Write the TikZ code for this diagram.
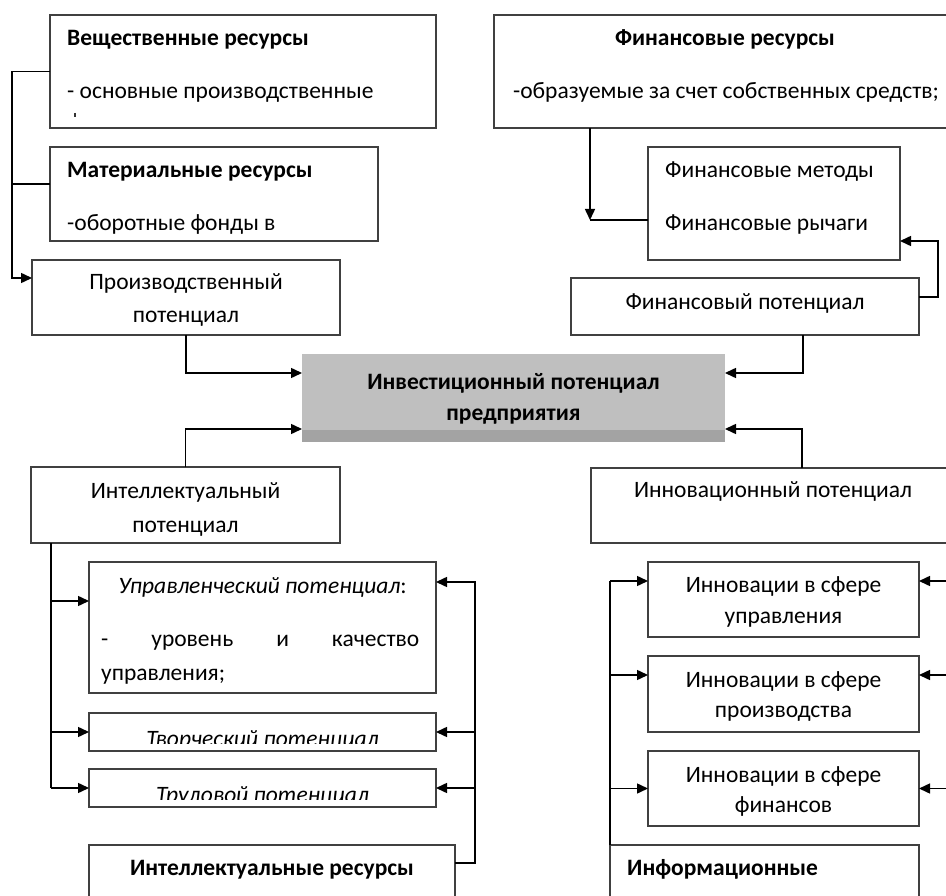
\documentclass[tikz,border=0pt]{standalone}
\usepackage{fontspec}
\setmainfont{Carlito}
\usetikzlibrary{arrows.meta,calc}
\begin{document}
\begin{tikzpicture}[x=1pt,y=-1pt,
  box/.style={draw=black!75,line width=1.3pt,inner sep=0pt,outer sep=0pt,anchor=north west,fill=white},
  txt/.style={inner sep=0pt,font=\fontsize{23.5}{28}\selectfont,text=black},
  btxt/.style={txt,font=\fontsize{23.5}{28}\selectfont\bfseries},
  itxt/.style={txt,font=\fontsize{23.5}{28}\selectfont\itshape},
  conn/.style={line width=1.5pt,black},
  arr/.style={conn,-{Triangle[length=11pt,width=10pt]}}]
\clip (0,0) rectangle (946,896);
\fill[white] (0,0) rectangle (946,896);
% boxes
\node[box,minimum width=386pt,minimum height=113pt] (veshch) at (50,15) {};
\node[box,minimum width=328pt,minimum height=94pt] (mater) at (50,147) {};
\node[box,minimum width=308pt,minimum height=75pt] (proizv) at (32,260) {};
\node[box,minimum width=462pt,minimum height=113pt] (finres) at (494,15) {};
\node[box,minimum width=252pt,minimum height=113pt] (finmet) at (648,147) {};
\node[box,minimum width=348pt,minimum height=57pt] (finpot) at (571,278) {};
\node[box,draw=none,fill=black!25,minimum width=423pt,minimum height=88pt] (center) at (302,354) {};
\fill[black!36] (center.south west) rectangle ([yshift=12pt]center.south east);
\node[box,minimum width=309pt,minimum height=76pt] (intel) at (31,467) {};
\node[box,minimum width=347pt,minimum height=131pt] (upr) at (89,562) {};
\node[box,minimum width=347pt,minimum height=38pt] (tvor) at (89,713) {};
\node[box,minimum width=347pt,minimum height=38pt] (trud) at (89,769) {};
\node[box,minimum width=366pt,minimum height=80pt] (intres) at (89,845) {};
\node[box,minimum width=364pt,minimum height=75pt] (innov) at (591,468) {};
\node[box,minimum width=271pt,minimum height=75pt] (innupr) at (648,562) {};
\node[box,minimum width=271pt,minimum height=76pt] (innpr) at (648,656) {};
\node[box,minimum width=271pt,minimum height=75pt] (innfin) at (648,751) {};
\node[box,minimum width=309pt,minimum height=80pt] (inform) at (610,845) {};
% texts
\node[btxt,anchor=base west] (t1) at (67,46) {Вещественные ресурсы};
\node[txt,anchor=base west] (t2) at (67,99) {- основные производственные};
\draw[line width=1.6pt,black!80] (75,113) -- (75,117.5);
\node[btxt,anchor=base west] (t3) at (67,178) {Материальные ресурсы};
\node[txt,anchor=base west] (t4) at (67,231) {-оборотные фонды в};
\node[txt,anchor=base] (t5) at (186,290) {Производственный};
\node[txt,anchor=base] (t6) at (186,323) {потенциал};
\node[btxt,anchor=base] (t7) at (725,46) {Финансовые ресурсы};
\node[txt,anchor=base] (t8) at (726,99) {-образуемые за счет собственных средств;};
\node[txt,anchor=base west] (t9) at (665,178) {Финансовые методы};
\node[txt,anchor=base west] (t10) at (665,231) {Финансовые рычаги};
\node[txt,anchor=base] (t11) at (745,310) {Финансовый потенциал};
\node[btxt,anchor=base] (t12) at (513.5,389) {Инвестиционный потенциал};
\node[btxt,anchor=base] (t13) at (513.5,420) {предприятия};
\node[txt,anchor=base] (t14) at (185.5,498) {Интеллектуальный};
\node[txt,anchor=base] (t15) at (185.5,532) {потенциал};
\node[txt,anchor=base] (t16) at (262.5,593) {\itshape Управленческий потенциал\upshape:};
\node[txt,anchor=base west] (t17) at (101,646) {\makebox[318pt]{-\hfill уровень\hfill и\hfill качество}};
\node[txt,anchor=base west] (t18) at (101,680) {управления;};
\begin{scope}
\clip (89,713) rectangle (436,743);
\node[itxt,anchor=base] (t19) at (262.5,746) {Творческий потенциал};
\end{scope}
\begin{scope}
\clip (89,769) rectangle (436,799);
\node[itxt,anchor=base] (t20) at (262.5,802) {Трудовой потенциал};
\end{scope}
\node[btxt,anchor=base] (t21) at (272,875) {Интеллектуальные ресурсы};
\node[txt,anchor=base] (t22) at (773,497) {Инновационный потенциал};
\node[txt,anchor=base] (t23) at (783.5,592) {Инновации в сфере};
\node[txt,anchor=base] (t24) at (783.5,623) {управления};
\node[txt,anchor=base] (t25) at (783.5,687) {Инновации в сфере};
\node[txt,anchor=base] (t26) at (783.5,717) {производства};
\node[txt,anchor=base] (t27) at (783.5,782) {Инновации в сфере};
\node[txt,anchor=base] (t28) at (783.5,812) {финансов};
\node[btxt,anchor=base west] (t29) at (627,875) {Информационные};
% connectors top-left
\coordinate (lbus) at (12,0);
\draw[conn] (veshch.west) -- (veshch.west -| lbus);
\draw[conn] ($(mater.north west)+(0,37)$) -- ($(lbus)+(0,184)$);
\draw[arr] (veshch.west -| lbus) |- ($(proizv.north west)+(0,18)$);
% to center
\draw[arr] (proizv.south) |- ($(center.north west)+(0,19)$);
\draw[arr] (intel.north) |- ($(center.south west)+(0,-13)$);
\draw[arr] ($(finpot.south east)+(-116,0)$) |- ($(center.north east)+(0,19)$);
\draw[arr] ($(innov.north west)+(211,0)$) |- ($(center.south east)+(0,-13)$);
% financial
\coordinate (fc) at (590,220);
\draw[arr] (finres.south -| fc) -- (fc);
\draw[conn] (fc) -- (fc -| finmet.west);
\draw[arr] ($(finpot.north east)+(0,19)$) -- ++(19,0) |- ($(finmet.north east)+(0,94)$);
% intellectual
\coordinate (lb) at (51,0);
\coordinate (ua) at ($(upr.north west)+(0,39)$);
\draw[conn] (intel.south -| lb) -- (lb |- trud.west);
\draw[arr] (lb |- ua) -- (ua);
\draw[arr] (lb |- tvor.west) -- (tvor.west);
\draw[arr] (lb |- trud.west) -- (trud.west);
\coordinate (rb) at (475,0);
\coordinate (ub) at ($(upr.north east)+(0,20)$);
\draw[arr] ($(intres.north east)+(0,18)$) -| (rb |- ub) -- (ub);
\draw[arr] (rb |- tvor.east) -- (tvor.east);
\draw[arr] (rb |- trud.east) -- (trud.east);
% innovation
\coordinate (ia) at ($(innupr.north west)+(0,19)$);
\coordinate (ib) at ($(innpr.north west)+(0,19)$);
\draw[conn] (inform.north west) -- (inform.north west |- ia);
\draw[arr] (inform.north west |- ia) -- (ia);
\draw[arr] (inform.north west |- ib) -- (ib);
\draw[arr] (inform.north west |- innfin.west) -- (innfin.west);
\coordinate (rr) at (960,0);
\coordinate (ja) at ($(innupr.north east)+(0,19)$);
\coordinate (jb) at ($(innpr.north east)+(0,19)$);
\draw[arr] (rr |- ja) -- (ja);
\draw[arr] (rr |- jb) -- (jb);
\draw[arr] (rr |- innfin.east) -- (innfin.east);
\end{tikzpicture}
\end{document}
